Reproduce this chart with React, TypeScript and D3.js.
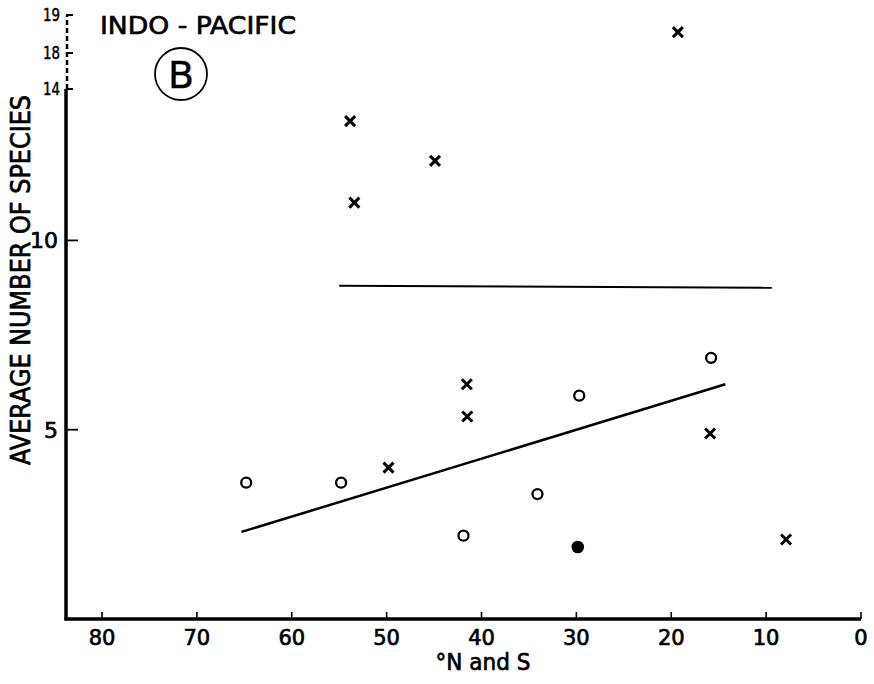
import React from "react";
import * as d3 from "d3";

// ---- data ----
const xTicks = [80, 70, 60, 50, 40, 30, 20, 10, 0];
const yTicksMain = [5, 10];
const yTicksBreak = [14, 18, 19];

const crossDeg = [53.85, 44.9, 53.4, 19.3, 41.55, 41.5, 49.8, 15.9, 7.9];
const crossVal = [13.15, 12.1, 11.0, 18.55, 6.2, 5.35, 4.0, 4.9, 2.1];

const circleDeg = [64.8, 54.8, 41.9, 34.1, 29.7, 15.8];
const circleVal = [3.6, 3.6, 2.2, 3.3, 5.9, 6.9];

const filledDeg = [29.85];
const filledVal = [1.9];

const flatLineDeg = [55, 9.4];
const flatLineVal = [8.8, 8.75];

const regLineDeg = [65.3, 14.3];
const regLineVal = [2.3, 6.2];

const W = 874;
const H = 684;
const FONT = "'DejaVu Sans', 'Liberation Sans', sans-serif";

export default function App() {
  const x = d3.scaleLinear().domain([80, 0]).range([102, 861]);
  const y = d3.scaleLinear().domain([0, 14, 18, 19]).range([619, 89, 53, 15]);

  const axisX = 66;
  const axisY = y(0);

  const line = d3
    .line<[number, number]>()
    .x((d) => x(d[0]))
    .y((d) => y(d[1]));

  const flatPts: [number, number][] = flatLineDeg.map((d, i) => [d, flatLineVal[i]]);
  const regPts: [number, number][] = regLineDeg.map((d, i) => [d, regLineVal[i]]);

  const xs = 5;
  const textStroke = { stroke: "#000", strokeWidth: 0.7 };

  return (
    <svg
      width={W}
      height={H}
      style={{ position: "absolute", left: 0, top: 0, background: "#fff" }}
    >
      <rect x={0} y={0} width={W} height={H} fill="#fff" />

      {/* x axis */}
      <line x1={axisX - 1.5} x2={x(0)} y1={axisY} y2={axisY} stroke="#000" strokeWidth={3.5} />
      {xTicks.map((t) => (
        <g key={"xt" + t}>
          <line x1={x(t)} x2={x(t)} y1={axisY} y2={axisY - 7} stroke="#000" strokeWidth={1.6} />
          <text
            x={x(t)}
            y={645}
            textAnchor="middle"
            fontFamily={FONT}
            fontSize={21}
            fill="#000"
            {...textStroke}
          >
            {t}
          </text>
        </g>
      ))}
      <text
        x={483}
        y={670}
        textAnchor="middle"
        fontFamily={FONT}
        fontSize={23}
        fill="#000"
        textLength={95}
        lengthAdjust="spacingAndGlyphs"
        {...textStroke}
      >
        °N and S
      </text>

      {/* y axis solid part */}
      <line x1={axisX} x2={axisX} y1={axisY + 1.5} y2={y(14)} stroke="#000" strokeWidth={3.5} />
      {/* y axis broken part */}
      <line
        x1={axisX + 1}
        x2={axisX + 1}
        y1={y(14)}
        y2={y(19)}
        stroke="#000"
        strokeWidth={2.5}
        strokeDasharray="5,3"
      />
      {yTicksMain.map((t) => (
        <g key={"yt" + t}>
          <line x1={axisX} x2={axisX + 12} y1={y(t)} y2={y(t)} stroke="#000" strokeWidth={1.8} />
          <text
            x={58}
            y={y(t) + 8}
            textAnchor="end"
            fontFamily={FONT}
            fontSize={22}
            fill="#000"
            {...textStroke}
          >
            {t}
          </text>
        </g>
      ))}
      {yTicksBreak.map((t) => (
        <g key={"yb" + t}>
          <line x1={axisX} x2={axisX + 7} y1={y(t)} y2={y(t)} stroke="#000" strokeWidth={2} />
          <text
            x={60}
            y={y(t) + 6}
            textAnchor="end"
            fontFamily={FONT}
            fontSize={17}
            fill="#000"
            textLength={17}
            lengthAdjust="spacingAndGlyphs"
            stroke="#000"
            strokeWidth={0.5}
          >
            {t}
          </text>
        </g>
      ))}
      <text
        transform={`translate(30,280) rotate(-90)`}
        textAnchor="middle"
        fontFamily={FONT}
        fontSize={27}
        fill="#000"
        textLength={370}
        lengthAdjust="spacingAndGlyphs"
        {...textStroke}
      >
        AVERAGE NUMBER OF SPECIES
      </text>

      {/* title */}
      <text
        x={100}
        y={34}
        fontFamily={FONT}
        fontSize={25}
        fill="#000"
        textLength={196}
        lengthAdjust="spacingAndGlyphs"
        {...textStroke}
      >
        INDO - PACIFIC
      </text>
      <circle cx={181} cy={74} r={26} fill="none" stroke="#000" strokeWidth={1.8} />
      <text
        x={181}
        y={88}
        textAnchor="middle"
        fontFamily={FONT}
        fontSize={38}
        fill="#000"
        stroke="#000"
        strokeWidth={0.4}
      >
        B
      </text>

      {/* lines */}
      <path d={line(flatPts) || ""} fill="none" stroke="#000" strokeWidth={2} />
      <path d={line(regPts) || ""} fill="none" stroke="#000" strokeWidth={2.5} />

      {/* crosses */}
      {crossDeg.map((d, i) => {
        const cx = x(d);
        const cy = y(crossVal[i]);
        return (
          <g key={"c" + i} stroke="#000" strokeWidth={3} strokeLinecap="butt">
            <line x1={cx - xs} y1={cy - xs} x2={cx + xs} y2={cy + xs} />
            <line x1={cx - xs} y1={cy + xs} x2={cx + xs} y2={cy - xs} />
          </g>
        );
      })}

      {/* open circles */}
      {circleDeg.map((d, i) => (
        <circle
          key={"o" + i}
          cx={x(d)}
          cy={y(circleVal[i])}
          r={5}
          fill="none"
          stroke="#000"
          strokeWidth={2.3}
        />
      ))}

      {/* filled */}
      {filledDeg.map((d, i) => (
        <circle key={"f" + i} cx={x(d)} cy={y(filledVal[i])} r={6.3} fill="#000" />
      ))}
    </svg>
  );
}
